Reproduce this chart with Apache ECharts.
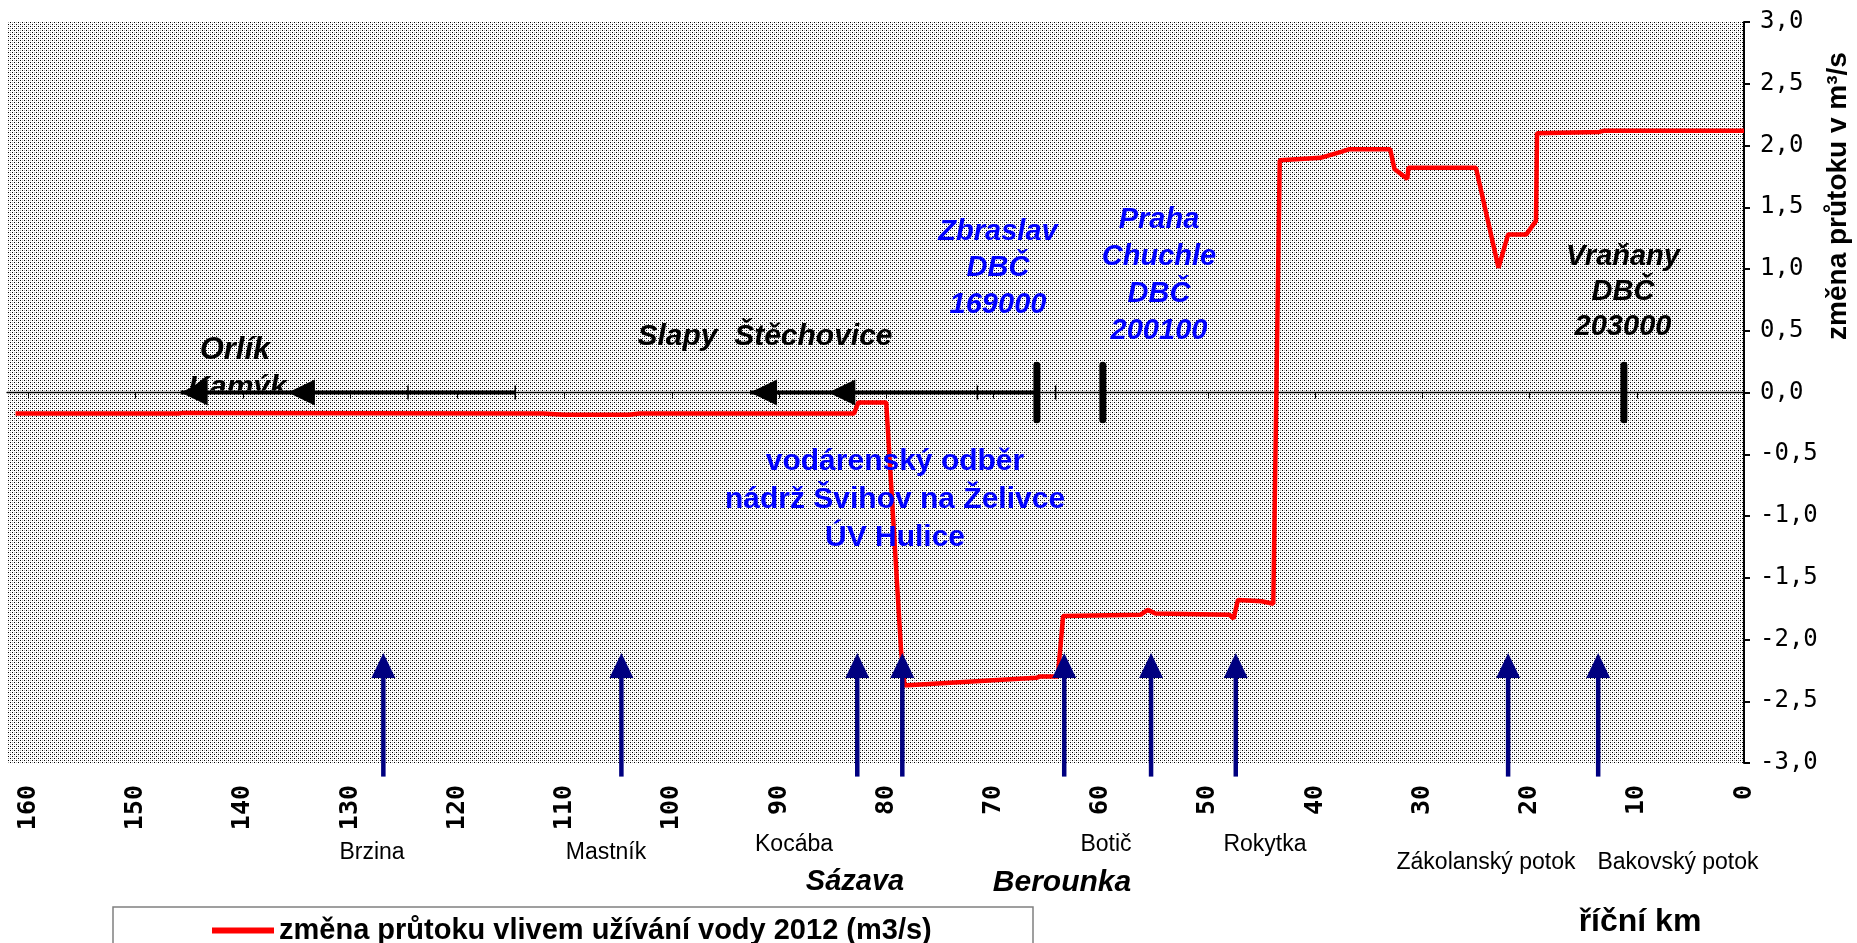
<!DOCTYPE html>
<html><head><meta charset="utf-8">
<script src="https://cdn.jsdelivr.net/npm/echarts@6/dist/echarts.min.js"></script>
<style>html,body{margin:0;padding:0;background:#fff}#c{width:1857px;height:943px}</style>
</head><body><div id="c"></div>
<script>
// ---------- data ----------
const kmTicks = [0,10,20,30,40,50,60,70,80,90,100,110,120,130,140,150,160];
const flowName = 'změna průtoku vlivem užívání vody 2012 (m3/s)';
const flowKm  = [161.2,146,145.5,112,110,104,103,83.0,82.6,80.0,78.6,78.3,78.0,66.0,65.7,64.0,63.5,56.3,55.6,54.9,48.0,47.6,47.2,45.0,43.9,43.3,39.5,37.5,36.8,33.0,32.6,31.4,31.3,25.0,22.9,22.0,20.3,19.4,19.3,13.5,13.0,0];
const flowVal = [-0.17,-0.17,-0.165,-0.17,-0.18,-0.18,-0.17,-0.17,-0.08,-0.08,-2.11,-2.37,-2.37,-2.31,-2.30,-2.30,-1.81,-1.80,-1.76,-1.79,-1.80,-1.83,-1.68,-1.69,-1.71,1.88,1.90,1.95,1.97,1.97,1.81,1.73,1.82,1.82,1.01,1.28,1.28,1.39,2.10,2.11,2.12,2.12];
const damKm = [145.8,135.8,92.7,85.4];              // Orlík, Kamýk, Slapy, Štěchovice
const reservoirFrom = [145.8,92.7];
const reservoirTo   = [114.6,65.95];
const markKm = [124.6,114.6,71.5,64.2];
const gaugeKm = [65.95,59.8,11.2];                  // Zbraslav, Chuchle, Vraňany
const gaugeLow = -0.22, gaugeHigh = 0.22;
const tribKm = [126.9,104.7,82.7,78.5,63.4,55.3,47.4,22.0,13.6];
const tribNames = ['Brzina','Mastník','Kocába','Sázava','Berounka','Botič','Rokytka','Zákolanský potok','Bakovský potok'];
const arrowTip = -2.11, arrowBase = -3.11;
const kamykKm = 140.5;

// ---------- pattern ----------
const tile = document.createElement('canvas'); tile.width = 4; tile.height = 4;
const tc = tile.getContext('2d');
tc.fillStyle = '#ffffff'; tc.fillRect(0,0,4,4);
tc.fillStyle = '#000000';
[[0,0],[2,2]].forEach(p => tc.fillRect(p[0],p[1],1,1));
tc.fillStyle = '#b4b4b4';
[[2,0],[0,2]].forEach(p => tc.fillRect(p[0],p[1],1,1));

const F = '"Liberation Sans", Arial, sans-serif';
const MONO = '"DejaVu Sans Mono", monospace';
function txt(text, x, y, font, fill, lh){
  return {type:'text', x:x, y:y, z:50, style:{text:text, font:font, fill:fill, textAlign:'center', textVerticalAlign:'middle', lineHeight:lh||30}};
}

const chart = echarts.init(document.getElementById('c'), null, {renderer:'canvas'});
chart.setOption({
  animation:false,
  backgroundColor:'#ffffff',
  grid:{left:7, right:113, top:22, bottom:180, show:true, borderWidth:0, backgroundColor:{image:tile, repeat:'repeat'}},
  xAxis:[
    {type:'value', min:0, max:162, inverse:true, position:'bottom',
     axisLine:{show:false, onZero:false}, axisTick:{show:false}, splitLine:{show:false},
     axisLabel:{customValues:kmTicks, rotate:90, margin:22, fontFamily:MONO, fontWeight:'bold', fontSize:25, color:'#000'}},
    {type:'value', min:0, max:162, inverse:true, position:'bottom',
     axisLine:{show:true, onZero:true, lineStyle:{color:'#000', width:1.3}},
     axisTick:{show:true, customValues:kmTicks, length:6, lineStyle:{color:'#000', width:1}},
     axisLabel:{show:false}, splitLine:{show:false}}
  ],
  yAxis:{type:'value', position:'right', min:-3, max:3, interval:0.5,
    axisLine:{show:true, lineStyle:{color:'#000', width:2}},
    axisTick:{show:true, length:6, lineStyle:{color:'#000', width:2}},
    splitLine:{show:false},
    axisLabel:{margin:16, fontFamily:MONO, fontSize:24, color:'#000',
      formatter:v => v.toFixed(1).replace('.',',')}},
  legend:{data:[flowName], left:207, top:911, icon:'rect', itemWidth:62, itemHeight:6, itemGap:10,
    textStyle:{fontFamily:F, fontWeight:'bold', fontSize:29, color:'#000'}, z:60},
  graphic:[
    {type:'rect', x:113, y:907, z:40, shape:{width:920, height:80}, style:{fill:'#fff', stroke:'#808080', lineWidth:1.5}},
    txt('Orlík', 235, 350, 'italic bold 31px '+F, '#000'),
    txt('Slapy  Štěchovice', 765, 337, 'italic bold 30px '+F, '#000'),
    txt('Zbraslav\nDBČ\n169000', 998, 268, 'italic bold 29px '+F, '#0000ff', 36.5),
    txt('Praha\nChuchle\nDBČ\n200100', 1159, 275, 'italic bold 29px '+F, '#0000ff', 37),
    txt('vodárenský odběr\nnádrž Švihov na Želivce\nÚV Hulice', 895, 500, 'bold 30px '+F, '#0000ff', 38),
    txt('Vraňany\nDBČ\n203000', 1623, 292, 'italic bold 29px '+F, '#000', 35),
    txt(tribNames[0], 372, 853, '23px '+F, '#000'),
    txt(tribNames[1], 606, 853, '23px '+F, '#000'),
    txt(tribNames[2], 794, 845, '23px '+F, '#000'),
    txt(tribNames[3], 855, 882, 'italic bold 29px '+F, '#000'),
    txt(tribNames[4], 1062, 883, 'italic bold 30px '+F, '#000'),
    txt(tribNames[5], 1106, 845, '23px '+F, '#000'),
    txt(tribNames[6], 1265, 845, '23px '+F, '#000'),
    txt(tribNames[7], 1486, 863, '23px '+F, '#000'),
    txt(tribNames[8], 1678, 863, '23px '+F, '#000'),
    txt('říční km', 1640, 922, 'bold 32px '+F, '#000'),
    {type:'text', x:1838, y:196, rotation:Math.PI/2, z:50,
     style:{text:'změna průtoku v m³/s', font:'bold 28px '+F, fill:'#000', textAlign:'center', textVerticalAlign:'middle'}}
  ],
  series:[
    {type:'custom', name:'Kamýk', z:2, data:[[kamykKm,0]],
     renderItem:(p,api)=>{const pt=api.coord([api.value(0),api.value(1)]);
       return {type:'text', x:pt[0], y:pt[1]-20,
         style:{text:'Kamýk', font:'italic bold 30px '+F, fill:'#000', textAlign:'center', textVerticalAlign:'top'},
         clipPath:{type:'rect', shape:{x:-80, y:-10, width:160, height:28}}};}},
    {type:'line', name:flowName, z:4, data:flowKm.map((k,i)=>[k,flowVal[i]]), showSymbol:false, symbol:'none',
     color:'#ff0000', lineStyle:{color:'#ff0000', width:4.5}},
    {type:'custom', name:'nádrže', z:5, data:reservoirFrom.map((k,i)=>[k,reservoirTo[i]]),
     renderItem:(p,api)=>{const a=api.coord([api.value(0),0]), b=api.coord([api.value(1),0]);
       return {type:'line', shape:{x1:a[0],y1:a[1],x2:b[0],y2:b[1]}, style:{stroke:'#000', lineWidth:4}};}},
    {type:'custom', name:'značky', z:5, data:markKm.map(k=>[k,0]),
     renderItem:(p,api)=>{const a=api.coord([api.value(0),api.value(1)]);
       return {type:'line', shape:{x1:a[0],y1:a[1]-7,x2:a[0],y2:a[1]+7}, style:{stroke:'#000', lineWidth:1.5}};}},
    {type:'custom', name:'hráze', z:6, data:damKm.map(k=>[k,0]),
     renderItem:(p,api)=>{const a=api.coord([api.value(0),api.value(1)]);
       return {type:'polygon', shape:{points:[[a[0],a[1]],[a[0]+27,a[1]-13],[a[0]+27,a[1]+13]]}, style:{fill:'#000'}};}},
    {type:'custom', name:'DBČ', z:6, data:gaugeKm.map(k=>[k,gaugeLow,gaugeHigh]),
     renderItem:(p,api)=>{const a=api.coord([api.value(0),api.value(1)]), b=api.coord([api.value(0),api.value(2)]);
       return {type:'line', shape:{x1:a[0],y1:a[1],x2:b[0],y2:b[1]}, style:{stroke:'#000', lineWidth:7, lineCap:'round'}};}},
    {type:'custom', name:'přítoky', z:7, clip:false, data:tribKm.map(k=>[k,arrowBase,arrowTip]),
     renderItem:(p,api)=>{const b=api.coord([api.value(0),api.value(1)]), t=api.coord([api.value(0),api.value(2)]);
       return {type:'group', children:[
         {type:'line', shape:{x1:b[0],y1:b[1],x2:t[0],y2:t[1]+20}, style:{stroke:'#000080', lineWidth:4.5}},
         {type:'polygon', shape:{points:[[t[0],t[1]],[t[0]-12,t[1]+25],[t[0]+12,t[1]+25]]}, style:{fill:'#000080'}}
       ]};}}
  ]
});
</script></body></html>
